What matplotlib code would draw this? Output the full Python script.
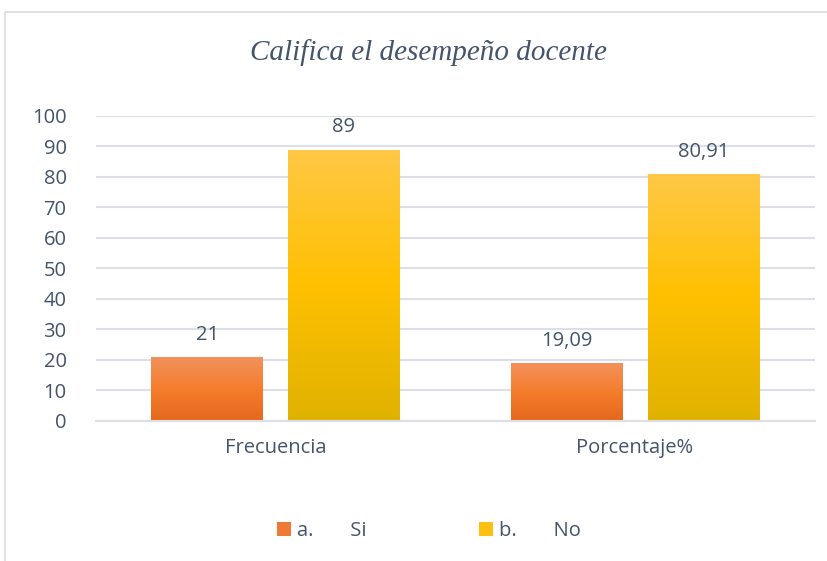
import numpy as np
import matplotlib
matplotlib.use("Agg")
import matplotlib.pyplot as plt
from matplotlib.colors import LinearSegmentedColormap
from matplotlib.patches import Rectangle

# Datos del gráfico
categorias = ["Frecuencia", "Porcentaje%"]
serie_si = [21, 19.09]
serie_no = [89, 80.91]
nombres = ["a.       Si", "b.       No"]

texto = "#44546A"
grid_col = "#DCE0E6"

plt.rcParams['font.family'] = ['Open Sans', 'DejaVu Sans']

fig = plt.figure(figsize=(8.28, 5.61), dpi=100)
ax = fig.add_axes([0.1156, 0.2496, 0.8684, 0.5437])

# Marco del gráfico
fig.patches.append(Rectangle((5 / 828, -0.1), 1.2, 1 - 12 / 561 + 0.1,
                             transform=fig.transFigure, fill=False,
                             edgecolor="#D9DEE5", linewidth=1.2))

grad_si = LinearSegmentedColormap.from_list("si", ["#E5681C", "#F57D2D", "#F2925E"])
grad_no = LinearSegmentedColormap.from_list("no", ["#E0B200", "#FFC000", "#FFC846"])

x = np.arange(len(categorias))
ancho = 0.31
desp = 0.19

def fmt(v):
    s = f"{v:g}"
    return s.replace(".", ",")

for vals, off, cmap, lab in [(serie_si, -desp, grad_si, nombres[0]),
                             (serie_no, desp, grad_no, nombres[1])]:
    bars = ax.bar(x + off, vals, ancho, color=cmap(0.5), label=lab, zorder=2)
    for b, v in zip(bars, vals):
        b.set_facecolor("none")
        x0, w, h = b.get_x(), b.get_width(), b.get_height()
        grad = np.linspace(0, 1, 256).reshape(-1, 1)
        im = ax.imshow(grad, cmap=cmap, origin="lower", aspect="auto",
                       extent=(x0, x0 + w, 0, h), zorder=2)
        im.set_clip_path(b)
        ax.text(x0 + w / 2, h + 4, fmt(v), ha="center", va="bottom",
                fontsize=14.5, color=texto)

ax.set_xlim(-0.5, 1.5)
ax.set_ylim(0, 100)
ax.set_yticks(range(0, 101, 10))
ax.set_xticks(x)
ax.set_xticklabels(categorias)
ax.tick_params(axis="both", length=0, labelsize=14.5, labelcolor=texto)
ax.tick_params(axis="y", pad=21)
ax.tick_params(axis="x", pad=12)
ax.grid(axis="y", color=grid_col, linewidth=1.5, zorder=0)
ax.set_axisbelow(True)
for s in ["top", "right", "left"]:
    ax.spines[s].set_visible(False)
ax.spines["bottom"].set_color(grid_col)
ax.spines["bottom"].set_linewidth(1.5)

fig.text(0.518, 0.906, "Califica el desempeño docente", ha="center", va="center",
         fontsize=21, style="italic", color=texto,
         family=["Liberation Serif", "DejaVu Serif"])

# Leyenda con cuadros de degradado aproximados
handles = [Rectangle((0, 0), 1, 1, facecolor="#EE7A35"),
           Rectangle((0, 0), 1, 1, facecolor="#FBC010")]
fig.legend(handles, nombres, loc="center", bbox_to_anchor=(0.518, 0.054),
           ncol=2, frameon=False, fontsize=14.5, labelcolor=texto,
           handlelength=0.7, handleheight=0.7, handletextpad=0.3,
           columnspacing=5.6)

fig.savefig("out.png", dpi=100)
